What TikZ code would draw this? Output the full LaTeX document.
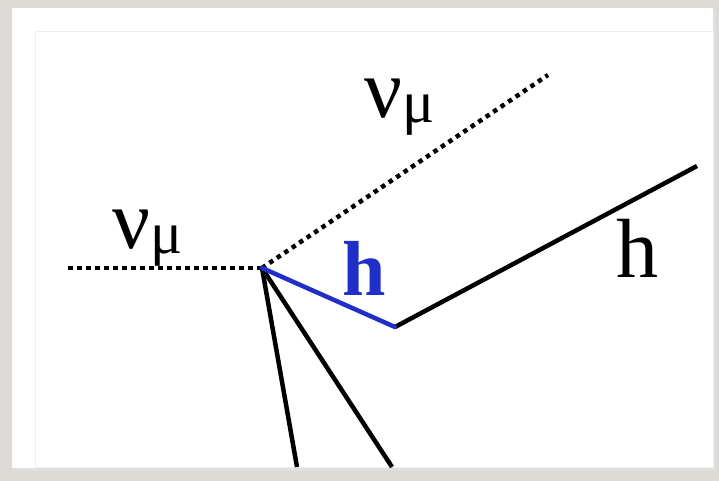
\documentclass[tikz,border=0pt]{standalone}
\usepackage{fontspec}
\setmainfont{Liberation Serif}
\definecolor{bgc}{HTML}{DDDAD6}
\definecolor{framec}{HTML}{EEEEEE}
\definecolor{hblue}{HTML}{1F2FC8}
\tikzset{
  neutrino/.style={line width=4.5pt, dash pattern=on 4.5pt off 4.5pt},
  hadron/.style={line width=4.5pt, black, line join=miter},
  lbl/.style={inner sep=0pt, anchor=base west, font=\fontsize{84}{84}\selectfont},
}
\newcommand{\numu}{ν\raisebox{-5pt}{\fontsize{60}{60}\selectfont μ}}
\begin{document}
\begin{tikzpicture}[x=1pt,y=-1pt]
\useasboundingbox (0,0) rectangle (719,481);
\fill[bgc] (0,0) rectangle (719,481);
\fill[black!12] (13,10) rectangle (716,471);
\fill[white] (12,8) rectangle (713,468);
\draw[framec, line width=1pt] (35,32) rectangle (713,467);
% vertex and end points
\coordinate (v) at (262,268);
\coordinate (nin) at (68,268);
\coordinate (nout) at (548,75);
\coordinate (k) at (395,327);
\coordinate (hend) at (697,166);
\coordinate (t1) at (297,467);
\coordinate (t2) at (392,467);
\draw[neutrino] (nin) -- (v);
\draw[neutrino] (v) -- (nout);
\draw[hadron] (v) -- (t1);
\draw[hadron] (v) -- (t2);
\draw[hadron] (k) -- (hend);
\draw[line width=4.5pt, hblue, line cap=round] (v) -- (k);
% labels
\node[lbl] (l1) at (112,248) {\numu};
\node[lbl] (l2) at (364,118) {\numu};
\node[lbl, text=hblue, font=\fontsize{78}{78}\selectfont\bfseries] (l3) at (342,295) {h};
\node[lbl] (l4) at (616,277) {h};
\end{tikzpicture}
\end{document}
